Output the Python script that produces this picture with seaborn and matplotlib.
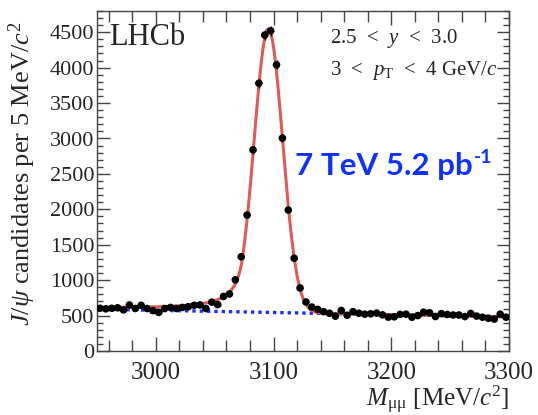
import numpy as np
import pandas as pd
import matplotlib
matplotlib.use("Agg")
import matplotlib.pyplot as plt
import seaborn as sns
from matplotlib.ticker import MultipleLocator

# Dimuon invariant-mass histogram: 5 MeV/c^2 bins between 2950 and 3300
mass_lo, mass_hi, bin_width = 2950, 3300, 5
bin_centres = np.arange(mass_lo + bin_width / 2, mass_hi, bin_width)
counts = [603, 595, 603, 610, 580, 650, 600, 645, 600, 570,
          545, 600, 615, 600, 615, 625, 645, 650, 600, 690,
          655, 770, 805, 1005, 1330, 1920, 2840, 3780, 4460, 4520,
          4040, 3005, 1990, 1310, 890, 692, 620, 588, 555, 533,
          492, 572, 505, 556, 533, 520, 525, 535, 510, 478,
          483, 517, 520, 477, 500, 548, 540, 487, 528, 516,
          508, 508, 486, 530, 493, 477, 463, 450, 520, 477]

# Fit model: Crystal Ball signal on a linear background
bkg_at_lo, bkg_at_hi = 590.0, 482.0
sig_peak, sig_mean, sig_sigma = 4000.0, 3095.6, 12.1
cb_alpha, cb_n = 1.8, 1.2

y_ticks = [0, 500, 1000, 1500, 2000, 2500, 3000, 3500, 4000, 4500]
x_ticks = [3000, 3100, 3200, 3300]


def background(m):
    return bkg_at_lo + (bkg_at_hi - bkg_at_lo) * (m - mass_lo) / (mass_hi - mass_lo)


def crystal_ball(m):
    t = (m - sig_mean) / sig_sigma
    core = np.exp(-0.5 * t ** 2)
    tail = np.exp(-0.5 * cb_alpha ** 2) * (1 - (cb_alpha / cb_n) * (cb_alpha + t)) ** (-cb_n)
    return sig_peak * np.where(t > -cb_alpha, core, tail)


data = pd.DataFrame({"mass": bin_centres, "count": counts})
grid = np.linspace(mass_lo, mass_hi, 1401)
fit = pd.DataFrame({"mass": grid,
                    "bkg": background(grid),
                    "total": background(grid) + crystal_ball(grid)})

sns.set_theme(style="ticks")
plt.rcParams["font.family"] = ["Liberation Serif", "DejaVu Serif"]
plt.rcParams["mathtext.fontset"] = "custom"
plt.rcParams["mathtext.rm"] = "Liberation Serif"
plt.rcParams["mathtext.it"] = "Liberation Serif:italic"
plt.rcParams["mathtext.bf"] = "Liberation Serif:bold"

W, H = 538, 415
fig = plt.figure(figsize=(W / 100, H / 100), dpi=100)
ax = fig.add_axes([97 / W, 64 / H, 412 / W, 340 / H])

sns.lineplot(data=fit, x="mass", y="bkg", ax=ax, color="#1a2cff",
             linestyle=(0, (1.0, 1.2)), linewidth=2.4)
sns.lineplot(data=fit, x="mass", y="total", ax=ax, color="#e05a5a",
             linewidth=2.2)
ax.errorbar(data["mass"], data["count"], xerr=bin_width / 2,
            yerr=np.sqrt(data["count"]), fmt="none", ecolor="black",
            elinewidth=1.0, capsize=0, zorder=4)
sns.scatterplot(data=data, x="mass", y="count", ax=ax, color="black",
                s=30, edgecolor="none", zorder=5)

ax.set_xlim(mass_lo, mass_hi)
ax.set_ylim(0, 4800)
ax.set_xticks(x_ticks)
ax.set_yticks(y_ticks)
ax.xaxis.set_minor_locator(MultipleLocator(20))
ax.yaxis.set_minor_locator(MultipleLocator(100))
ax.tick_params(which="both", direction="in", top=True, right=True,
               color="#444444", width=1.0)
ax.tick_params(axis="x", which="major", length=10, labelsize=18, pad=8)
ax.tick_params(axis="x", which="minor", length=8)
ax.tick_params(axis="y", which="major", length=9, labelsize=16, pad=2)
ax.tick_params(axis="y", which="minor", length=4.5)
for sp in ax.spines.values():
    sp.set_color("#444444")
    sp.set_linewidth(1.0)

ax.set_xlabel(r"$M_{\mathrm{\mu\mu}}$ [MeV/$c^{2}$]", fontsize=18,
              loc="right")
ax.xaxis.set_label_coords(1.0, -0.095)
ax.xaxis.label.set_va("top")
ax.set_ylabel(r"$J/\psi$ candidates per 5 MeV/$c^{2}$", fontsize=19)
ax.yaxis.set_label_coords(-0.142, 0.52)

ax.text(0.03, 0.965, "LHCb", transform=ax.transAxes, fontsize=22,
        ha="left", va="top")
fig.text(330 / W, 1 - 38 / H, r"2.5  <  $y$  <  3.0", fontsize=15,
         ha="left", va="center")
fig.text(330 / W, 1 - 70 / H, r"3  <  $p_{\mathrm{T}}$  <  4 GeV/$c$",
         fontsize=15, ha="left", va="center")

# Beam energy and integrated luminosity
lumi_font = ["Lato", "DejaVu Sans"]
fig.text(473 / W, 1 - 166 / H, "7 TeV 5.2 pb", fontsize=22.5,
         fontweight="bold", color="#1030ff", ha="right", va="center",
         family=lumi_font)
fig.text(474 / W, 1 - 149 / H, "-1", fontsize=14, fontweight="bold",
         color="#1030ff", ha="left", va="top", family=lumi_font)

fig.savefig("out.png", dpi=100)
